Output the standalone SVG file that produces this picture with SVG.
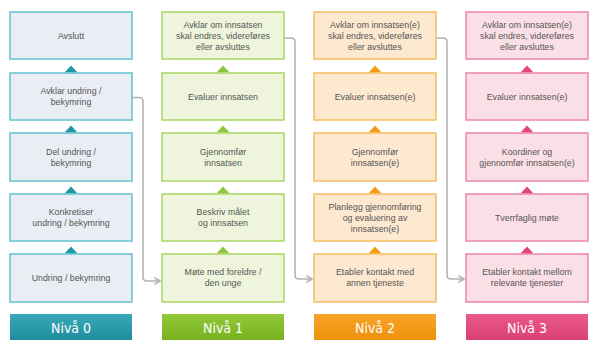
<svg xmlns="http://www.w3.org/2000/svg" width="590" height="340" viewBox="0 0 590 340">
<style>
.t{font-family:"Liberation Sans",Arial,sans-serif;font-size:8.8px;fill:#555;text-anchor:middle}
.lbl{font-family:"DejaVu Sans Condensed","Liberation Sans",sans-serif;font-size:14px;fill:#fff;text-anchor:middle}
.b0{fill:#e9eef4;stroke:#62c2d0;stroke-width:1.5}
.b1{fill:#eef5dc;stroke:#a8d662;stroke-width:1.5}
.b2{fill:#fde9d0;stroke:#f6bd62;stroke-width:1.5}
.b3{fill:#fbdfe6;stroke:#ee86a4;stroke-width:1.5}
.conn{fill:none;stroke:#b3b3b3;stroke-width:1.6}
</style>
<defs>
<marker id="ah" viewBox="0 0 10 10" refX="8" refY="5" markerWidth="5" markerHeight="5" orient="auto">
<path d="M1 1 L8 5 L1 9" fill="none" stroke="#b3b3b3" stroke-width="2"/>
</marker>
<linearGradient id="g0" x1="0" y1="0" x2="0" y2="1"><stop offset="0" stop-color="#39a9b9"/><stop offset="1" stop-color="#1a8897"/></linearGradient>
<linearGradient id="g1" x1="0" y1="0" x2="0" y2="1"><stop offset="0" stop-color="#92c83a"/><stop offset="1" stop-color="#74ae1c"/></linearGradient>
<linearGradient id="g2" x1="0" y1="0" x2="0" y2="1"><stop offset="0" stop-color="#f7a52a"/><stop offset="1" stop-color="#ee8d05"/></linearGradient>
<linearGradient id="g3" x1="0" y1="0" x2="0" y2="1"><stop offset="0" stop-color="#e95a8a"/><stop offset="1" stop-color="#d93d70"/></linearGradient>
</defs>

<g id="connectors">
<path class="conn" d="M132 97.5 H139 Q143 97.5 143 101.5 V277 Q143 281 147 281 H160" marker-end="url(#ah)"/>
<path class="conn" d="M284 38 H291 Q295 38 295 42 V275 Q295 279 299 279 H312" marker-end="url(#ah)"/>
<path class="conn" d="M436 38 H443 Q447 38 447 42 V275 Q447 279 451 279 H464" marker-end="url(#ah)"/>
</g>

<g id="triangles">
<g fill="#1f97a6">
<path d="M64.5 72.5 L71 65.5 L77.5 72.5Z"/><path d="M64.5 132.5 L71 125.5 L77.5 132.5Z"/><path d="M64.5 193.5 L71 186.5 L77.5 193.5Z"/><path d="M64.5 253.5 L71 246.5 L77.5 253.5Z"/>
</g>
<g fill="#8cc63f">
<path d="M216.5 72.5 L223 65.5 L229.5 72.5Z"/><path d="M216.5 132.5 L223 125.5 L229.5 132.5Z"/><path d="M216.5 193.5 L223 186.5 L229.5 193.5Z"/><path d="M216.5 253.5 L223 246.5 L229.5 253.5Z"/>
</g>
<g fill="#f39c12">
<path d="M368.5 72.5 L375 65.5 L381.5 72.5Z"/><path d="M368.5 132.5 L375 125.5 L381.5 132.5Z"/><path d="M368.5 193.5 L375 186.5 L381.5 193.5Z"/><path d="M368.5 253.5 L375 246.5 L381.5 253.5Z"/>
</g>
<g fill="#e0457b">
<path d="M520.5 72.5 L527 65.5 L533.5 72.5Z"/><path d="M520.5 132.5 L527 125.5 L533.5 132.5Z"/><path d="M520.5 193.5 L527 186.5 L533.5 193.5Z"/><path d="M520.5 253.5 L527 246.5 L533.5 253.5Z"/>
</g>
</g>

<!-- Column 0 -->
<g id="n0-1"><rect class="b0" x="10" y="12" width="122" height="47"/><text class="t" x="71" y="38.5">Avslutt</text></g>
<g id="n0-2"><rect class="b0" x="10" y="73" width="122" height="47"/><text class="t" x="71" y="94">Avklar undring /</text><text class="t" x="71" y="105">bekymring</text></g>
<g id="n0-3"><rect class="b0" x="10" y="133" width="122" height="48"/><text class="t" x="71" y="154.5">Del undring /</text><text class="t" x="71" y="165.5">bekymring</text></g>
<g id="n0-4"><rect class="b0" x="10" y="194" width="122" height="47"/><text class="t" x="71" y="215">Konkretiser</text><text class="t" x="71" y="226">undring / bekymring</text></g>
<g id="n0-5"><rect class="b0" x="10" y="254" width="122" height="48"/><text class="t" x="71" y="281">Undring / bekymring</text></g>
<g id="l0"><rect x="10" y="314" width="122" height="30" fill="url(#g0)"/><text class="lbl" x="71" y="333" textLength="40" lengthAdjust="spacingAndGlyphs">Nivå 0</text></g>

<!-- Column 1 -->
<g id="n1-1"><rect class="b1" x="162" y="12" width="122" height="47"/><text class="t" x="223" y="28">Avklar om innsatsen</text><text class="t" x="223" y="39">skal endres, videreføres</text><text class="t" x="223" y="50">eller avsluttes</text></g>
<g id="n1-2"><rect class="b1" x="162" y="73" width="122" height="47"/><text class="t" x="223" y="99.5">Evaluer innsatsen</text></g>
<g id="n1-3"><rect class="b1" x="162" y="133" width="122" height="48"/><text class="t" x="223" y="154.5">Gjennomfør</text><text class="t" x="223" y="165.5">innsatsen</text></g>
<g id="n1-4"><rect class="b1" x="162" y="194" width="122" height="47"/><text class="t" x="223" y="215">Beskriv målet</text><text class="t" x="223" y="226">og innsatsen</text></g>
<g id="n1-5"><rect class="b1" x="162" y="254" width="122" height="48"/><text class="t" x="223" y="275">Møte med foreldre /</text><text class="t" x="223" y="286">den unge</text></g>
<g id="l1"><rect x="162" y="314" width="122" height="30" fill="url(#g1)"/><text class="lbl" x="223" y="333" textLength="40" lengthAdjust="spacingAndGlyphs">Nivå 1</text></g>

<!-- Column 2 -->
<g id="n2-1"><rect class="b2" x="314" y="12" width="122" height="47"/><text class="t" x="375" y="28">Avklar om innsatsen(e)</text><text class="t" x="375" y="39">skal endres, videreføres</text><text class="t" x="375" y="50">eller avsluttes</text></g>
<g id="n2-2"><rect class="b2" x="314" y="73" width="122" height="47"/><text class="t" x="375" y="99.5">Evaluer innsatsen(e)</text></g>
<g id="n2-3"><rect class="b2" x="314" y="133" width="122" height="48"/><text class="t" x="375" y="154.5">Gjennomfør</text><text class="t" x="375" y="165.5">innsatsen(e)</text></g>
<g id="n2-4"><rect class="b2" x="314" y="194" width="122" height="47"/><text class="t" x="375" y="209.5">Planlegg gjennomføring</text><text class="t" x="375" y="220.5">og evaluering av</text><text class="t" x="375" y="231.5">innsatsen(e)</text></g>
<g id="n2-5"><rect class="b2" x="314" y="254" width="122" height="48"/><text class="t" x="375" y="275">Etabler kontakt med</text><text class="t" x="375" y="286">annen tjeneste</text></g>
<g id="l2"><rect x="314" y="314" width="122" height="30" fill="url(#g2)"/><text class="lbl" x="375" y="333" textLength="40" lengthAdjust="spacingAndGlyphs">Nivå 2</text></g>

<!-- Column 3 -->
<g id="n3-1"><rect class="b3" x="466" y="12" width="122" height="47"/><text class="t" x="527" y="28">Avklar om innsatsen(e)</text><text class="t" x="527" y="39">skal endres, videreføres</text><text class="t" x="527" y="50">eller avsluttes</text></g>
<g id="n3-2"><rect class="b3" x="466" y="73" width="122" height="47"/><text class="t" x="527" y="99.5">Evaluer innsatsen(e)</text></g>
<g id="n3-3"><rect class="b3" x="466" y="133" width="122" height="48"/><text class="t" x="527" y="154.5">Koordiner og</text><text class="t" x="527" y="165.5">gjennomfør innsatsen(e)</text></g>
<g id="n3-4"><rect class="b3" x="466" y="194" width="122" height="47"/><text class="t" x="527" y="220.5">Tverrfaglig møte</text></g>
<g id="n3-5"><rect class="b3" x="466" y="254" width="122" height="48"/><text class="t" x="527" y="275">Etabler kontakt mellom</text><text class="t" x="527" y="286">relevante tjenester</text></g>
<g id="l3"><rect x="466" y="314" width="122" height="30" fill="url(#g3)"/><text class="lbl" x="527" y="333" textLength="40" lengthAdjust="spacingAndGlyphs">Nivå 3</text></g>
</svg>
